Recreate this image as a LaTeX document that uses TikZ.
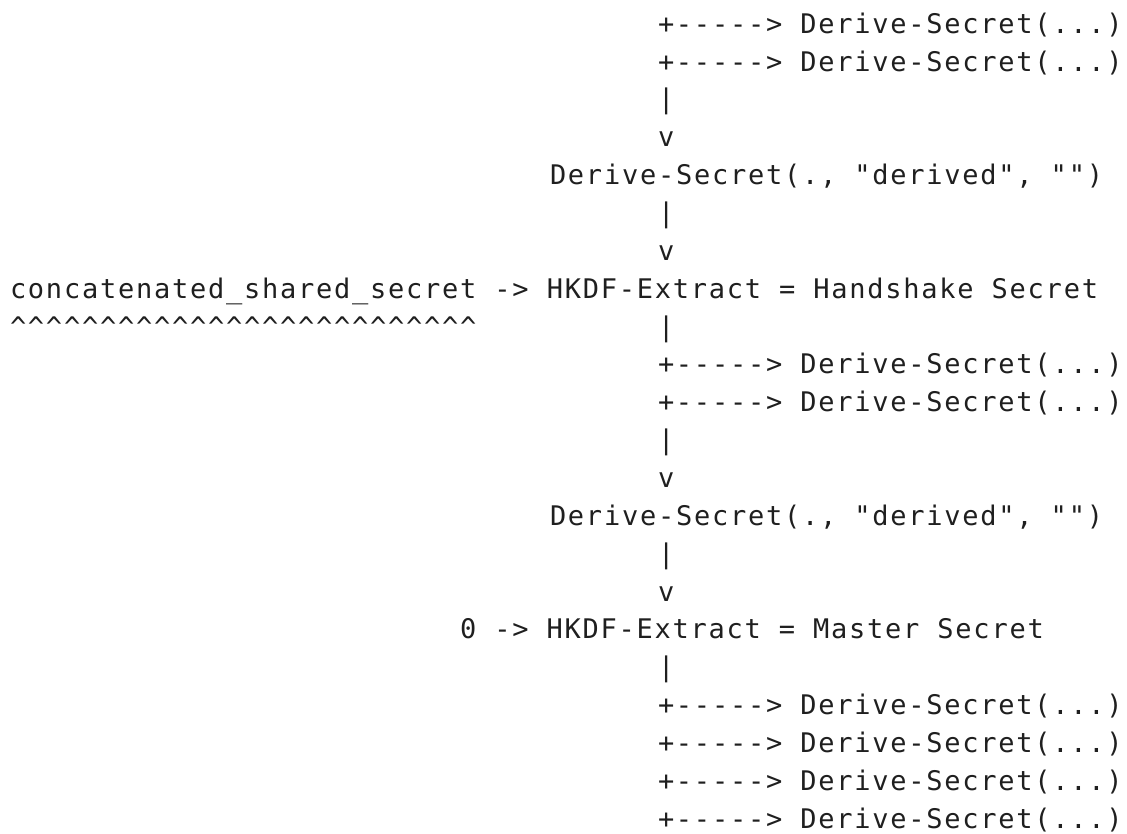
\documentclass[tikz,border=0pt]{standalone}
\usepackage{fontspec}
\setmonofont[LetterSpace=6.5]{DejaVu Sans Mono}
\usepackage{tikz}
\newcommand\asciifont{\fontsize{27}{36}\selectfont\ttfamily}
\tikzset{asc/.style={inner sep=0pt,outer sep=0pt,anchor=base west,font=\asciifont,text={black!88}}}

\begin{document}
\begin{tikzpicture}[x=18pt,y=-37.86pt]
\useasboundingbox (-10pt,33.2pt) rectangle (1117pt,-799.8pt);
% branches off the secrets
\foreach \r in {0,1,9,10,18,19,20,21}
  \node[asc] (br\r) at (36,\r) {+-----> Derive-Secret(...)};
% down strokes
\foreach \r in {2,5,8,11,14,17}
  \node[asc] (bar\r) at (36,\r) {|};
\foreach \r in {3,6,12,15}
  \node[asc] (dn\r) at (36,\r) {v};
\node[asc] (derivedA) at (30,4) {Derive-Secret(., "derived", "")};
\node[asc] (derivedB) at (30,13) {Derive-Secret(., "derived", "")};
\node[asc] (handshake) at (0,7) {concatenated\_shared\_secret -> HKDF-Extract = Handshake Secret};
\node[asc] (carets) at (0,8) {\foreach \i in {1,...,26}{\textasciicircum}};
\node[asc] (master) at (25,16) {0 -> HKDF-Extract = Master Secret};
\end{tikzpicture}
\end{document}
